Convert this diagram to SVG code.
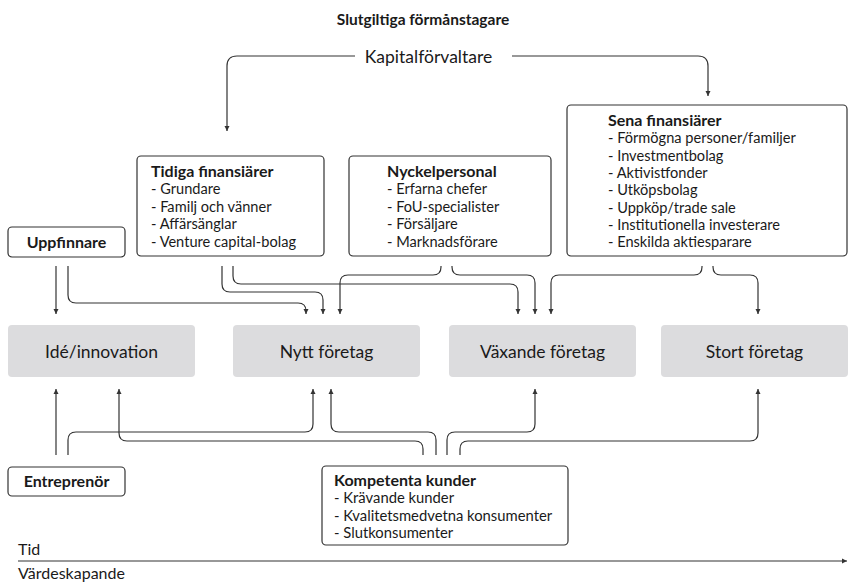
<svg xmlns="http://www.w3.org/2000/svg" width="848" height="582" viewBox="0 0 848 582">
<style>
text{font-family:Lato,"Noto Sans","Liberation Sans",sans-serif;fill:#1a1a1a}
.t{font-size:14.6px}
.b{font-size:16px;font-weight:bold}
.big{font-size:17.5px}
.box{fill:#fff;stroke:#333;stroke-width:1.2}
.stage{fill:#dcdcde}
.c{fill:none;stroke:#333;stroke-width:1.2}
</style>
<defs>
<marker id="a" markerUnits="userSpaceOnUse" markerWidth="6" markerHeight="6" refX="5" refY="3" orient="auto">
<path d="M0,0.5 L5,3 L0,5.5 z" fill="#333"/>
</marker>
</defs>
<g id="title"><text class="b" x="423" y="25" text-anchor="middle" style="font-size:15.5px">Slutgiltiga förmånstagare</text></g>
<g id="kapital"><text x="428.5" y="63" text-anchor="middle" style="font-size:17.5px">Kapitalförvaltare</text></g>
<g id="tidiga">
<rect class="box" x="137" y="156" width="187" height="100" rx="4"/>
<text class="b" x="151" y="177">Tidiga finansiärer</text>
<text class="t" x="151" y="194">- Grundare</text>
<text class="t" x="151" y="212">- Familj och vänner</text>
<text class="t" x="151" y="229">- Affärsänglar</text>
<text class="t" x="151" y="247">- Venture capital-bolag</text>
</g>
<g id="nyckel">
<rect class="box" x="349" y="156" width="202" height="100" rx="4"/>
<text class="b" x="387" y="177">Nyckelpersonal</text>
<text class="t" x="387" y="194">- Erfarna chefer</text>
<text class="t" x="387" y="212">- FoU-specialister</text>
<text class="t" x="387" y="229">- Försäljare</text>
<text class="t" x="387" y="247">- Marknadsförare</text>
</g>
<g id="sena">
<rect class="box" x="567" y="105" width="280" height="151" rx="4"/>
<text class="b" x="608" y="126">Sena finansiärer</text>
<text class="t" x="608" y="143">- Förmögna personer/familjer</text>
<text class="t" x="608" y="161">- Investmentbolag</text>
<text class="t" x="608" y="178">- Aktivistfonder</text>
<text class="t" x="608" y="195">- Utköpsbolag</text>
<text class="t" x="608" y="213">- Uppköp/trade sale</text>
<text class="t" x="608" y="230">- Institutionella investerare</text>
<text class="t" x="608" y="247">- Enskilda aktiesparare</text>
</g>
<g id="uppfinnare">
<rect class="box" x="8" y="227" width="117" height="30" rx="4"/>
<text class="b" x="66.5" y="248" text-anchor="middle">Uppfinnare</text>
</g>
<g id="ide"><rect class="stage" x="8" y="325" width="187" height="52" rx="4"/><text class="big" x="101.5" y="358" text-anchor="middle">Idé/innovation</text></g>
<g id="nytt"><rect class="stage" x="233" y="325" width="187" height="52" rx="4"/><text class="big" x="326.5" y="358" text-anchor="middle">Nytt företag</text></g>
<g id="vaxande"><rect class="stage" x="449" y="325" width="187" height="52" rx="4"/><text class="big" x="542.5" y="358" text-anchor="middle">Växande företag</text></g>
<g id="stort"><rect class="stage" x="661" y="325" width="187" height="52" rx="4"/><text class="big" x="754.5" y="358" text-anchor="middle">Stort företag</text></g>
<g id="entreprenor">
<rect class="box" x="8" y="467" width="117" height="29" rx="4"/>
<text class="b" x="66.5" y="487" text-anchor="middle">Entreprenör</text>
</g>
<g id="kunder">
<rect class="box" x="322" y="466" width="246" height="79" rx="4"/>
<text class="b" x="334" y="486">Kompetenta kunder</text>
<text class="t" x="334" y="503" style="font-size:14.8px">- Krävande kunder</text>
<text class="t" x="334" y="521" style="font-size:14.8px">- Kvalitetsmedvetna konsumenter</text>
<text class="t" x="334" y="538" style="font-size:14.8px">- Slutkonsumenter</text>
</g>
<g id="tidsaxel">
<text x="18" y="555" style="font-size:16px">Tid</text>
<text x="18" y="579" style="font-size:16px">Värdeskapande</text>
</g>
<g id="connectors">
<path class="c" d="M355 56 H237 Q227 56 227 66 V131" marker-end="url(#a)"/>
<path class="c" d="M512 56 H698 Q708 56 708 66 V96" marker-end="url(#a)"/>
<path class="c" d="M56 266 V314" marker-end="url(#a)"/>
<path class="c" d="M68 266 V295 Q68 303 76 303 H298 Q306 303 306 311 V314" marker-end="url(#a)"/>
<path class="c" d="M222 266 V284 Q222 292 230 292 H315 Q323 292 323 300 V314" marker-end="url(#a)"/>
<path class="c" d="M233 266 V276 Q233 284 241 284 H510 Q518 284 518 292 V314" marker-end="url(#a)"/>
<path class="c" d="M441 266 V267 Q441 275 433 275 H348 Q340 275 340 283 V314" marker-end="url(#a)"/>
<path class="c" d="M452 266 V267 Q452 275 460 275 H527 Q535 275 535 283 V314" marker-end="url(#a)"/>
<path class="c" d="M702 266 V267 Q702 275 694 275 H559 Q551 275 551 283 V314" marker-end="url(#a)"/>
<path class="c" d="M713 266 V267 Q713 275 721 275 H750 Q758 275 758 283 V314" marker-end="url(#a)"/>
<path class="c" d="M56 455 V389" marker-end="url(#a)"/>
<path class="c" d="M68 455 V440 Q68 432 76 432 H305 Q313 432 313 424 V389" marker-end="url(#a)"/>
<path class="c" d="M423 455 V449 Q423 441 415 441 H127 Q119 441 119 433 V389" marker-end="url(#a)"/>
<path class="c" d="M436 455 V440 Q436 432 428 432 H339 Q331 432 331 424 V389" marker-end="url(#a)"/>
<path class="c" d="M447 455 V440 Q447 432 455 432 H527 Q535 432 535 424 V389" marker-end="url(#a)"/>
<path class="c" d="M460 455 V449 Q460 441 468 441 H750 Q758 441 758 433 V389" marker-end="url(#a)"/>
<path class="c" d="M18 561 H847" marker-end="url(#a)"/>
</g>
</svg>
